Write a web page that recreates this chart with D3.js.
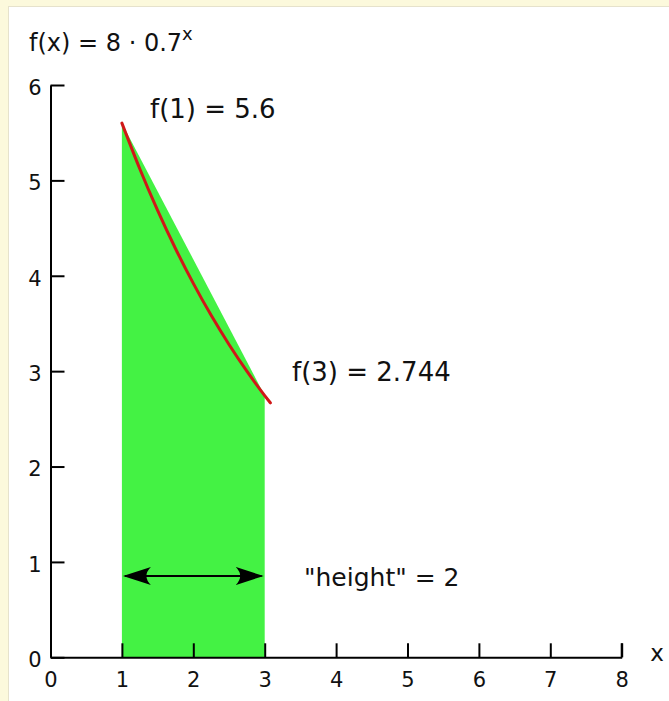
<!DOCTYPE html>
<html>
<head>
<meta charset="utf-8">
<script src="https://cdn.jsdelivr.net/npm/d3@7"></script>
<style>
  html, body { margin: 0; padding: 0; background: #fcf9dc; }
  svg { display: block; }
  text { font-family: "Comic Sans MS", "DejaVu Sans", sans-serif; fill: #111; }
</style>
</head>
<body>
<svg id="chart" width="669" height="701"></svg>
<script>
// Axis ticks
const xTicks = [0, 1, 2, 3, 4, 5, 6, 7, 8];
const yTicks = [0, 1, 2, 3, 4, 5, 6];

// Trapezoid under the chord from f(1) to f(3)
const trapX = [1, 1, 3, 3];
const trapY = [0, 5.6, 2.744, 0];

// f(x) = 8 · 0.7^x sampled values
const curveX = [1, 1.25, 1.5, 1.75, 2, 2.25, 2.5, 2.75, 3, 3.08];
const curveY = [5.6, 5.122, 4.685, 4.286, 3.92, 3.585, 3.28, 3.0, 2.744, 2.667];

// Width of the interval
const spanX = [1, 3];

const svg = d3.select("#chart");

// White panel
svg.append("rect")
  .attr("x", 8.5).attr("y", 6.5)
  .attr("width", 700).attr("height", 720)
  .attr("fill", "#ffffff")
  .attr("stroke", "#e6e2cc").attr("stroke-width", 1);

const x = d3.scaleLinear().domain([0, 8]).range([50.5, 621.7]);
const y = d3.scaleLinear().domain([0, 6]).range([657.3, 85]);

// Green trapezoid
const trap = trapX.map((d, i) => [d, trapY[i]]);
svg.append("path")
  .attr("d", d3.line().x(d => x(d[0])).y(d => y(d[1]))(trap) + "Z")
  .attr("fill", "#44f244");

// Red exponential curve
const pts = curveX.map((d, i) => [d, curveY[i]]);
svg.append("path")
  .attr("d", d3.line().x(d => x(d[0])).y(d => y(d[1])).curve(d3.curveMonotoneX)(pts))
  .attr("fill", "none")
  .attr("stroke", "#d01818")
  .attr("stroke-width", 3)
  .attr("stroke-linecap", "round");

// Axes
const xAxis = d3.axisBottom(x).tickValues(xTicks).tickFormat(d3.format("d"))
  .tickSize(-14).tickSizeOuter(0).tickPadding(15);
const yAxis = d3.axisLeft(y).tickValues(yTicks).tickFormat(d3.format("d"))
  .tickSize(-14).tickSizeOuter(0).tickPadding(9);

const gx = svg.append("g").attr("transform", `translate(0,${y(0)})`).call(xAxis);
const gy = svg.append("g").attr("transform", `translate(${x(0)},0)`).call(yAxis);

[gx, gy].forEach(g => {
  g.attr("font-size", null).attr("font-family", null);
  g.selectAll("path.domain").attr("stroke", "#000").attr("stroke-width", 2);
  g.selectAll(".tick line").attr("stroke", "#000").attr("stroke-width", 2);
  g.selectAll(".tick text")
    .style("font-size", "21px")
    .attr("fill", "#1a1a1a");
});
gy.selectAll(".tick text").attr("dy", "0.45em");

// End tick at x = 8
svg.append("line")
  .attr("x1", x(8)).attr("x2", x(8)).attr("y1", y(0)).attr("y2", y(0) - 14)
  .attr("stroke", "#000").attr("stroke-width", 2);

// Axis name
svg.append("text").attr("x", 657).attr("y", 661)
  .attr("text-anchor", "middle").style("font-size", "23px").text("x");

// Title with exponent
const title = svg.append("text").attr("x", 29).attr("y", 51).style("font-size", "24px");
title.append("tspan").text("f(x) = 8 \u00b7 0.7");
title.append("tspan").attr("dy", -11).style("font-size", "18px").text("x");

// Value labels
svg.append("text").attr("x", 150).attr("y", 118).style("font-size", "26px").text("f(1) = 5.6");
svg.append("text").attr("x", 292).attr("y", 381).style("font-size", "26px").text("f(3) = 2.744");
svg.append("text").attr("x", 304).attr("y", 586).style("font-size", "25px").text("\"height\" = 2");

// Double-headed arrow across the interval
const arrowY = 576;
const defs = svg.append("defs");
["start", "end"].forEach(k => {
  defs.append("marker")
    .attr("id", "arrow-" + k)
    .attr("viewBox", "0 0 28 18")
    .attr("refX", 26).attr("refY", 9)
    .attr("markerWidth", 28).attr("markerHeight", 18)
    .attr("markerUnits", "userSpaceOnUse")
    .attr("orient", "auto-start-reverse")
    .append("path")
    .attr("d", "M0,0 Q9,9 0,18 L28,9 Z")
    .attr("fill", "#000");
});
svg.append("line")
  .attr("x1", x(spanX[0]) + 3).attr("x2", x(spanX[1]) - 3)
  .attr("y1", arrowY).attr("y2", arrowY)
  .attr("stroke", "#000").attr("stroke-width", 2)
  .attr("marker-start", "url(#arrow-start)")
  .attr("marker-end", "url(#arrow-end)");
</script>
</body>
</html>
